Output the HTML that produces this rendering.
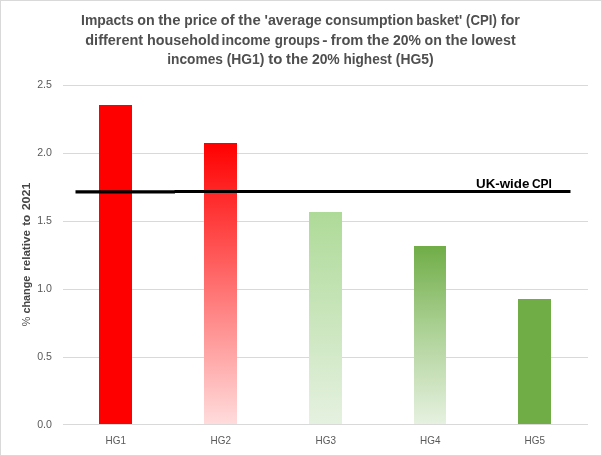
<!DOCTYPE html>
<html lang="en">
<head>
<meta charset="utf-8">
<title>CPI impacts by household income group</title>
<style>
html,body{margin:0;padding:0;background:#fff;}
body{width:602px;height:456px;overflow:hidden;}
svg{display:block;}
text{font-family:"Liberation Sans",Arial,sans-serif;}
.t{font-weight:bold;font-size:14.0px;fill:#4f4f4f;font-kerning:none;}
.ax{font-size:10.8px;fill:#595959;}
.yt{font-weight:bold;font-size:11.3px;fill:#454545;}
.lb{font-weight:bold;font-size:13px;fill:#000;}
</style>
</head>
<body>
<svg width="602" height="456" viewBox="0 0 602 456">
<defs>
<linearGradient id="g2" x1="0" y1="0" x2="0" y2="1"><stop offset="0" stop-color="#ff0000"/><stop offset="1" stop-color="#ffdcdc"/></linearGradient>
<linearGradient id="g3" x1="0" y1="0" x2="0" y2="1"><stop offset="0" stop-color="#aeda98"/><stop offset="1" stop-color="#e5f1e0"/></linearGradient>
<linearGradient id="g4" x1="0" y1="0" x2="0" y2="1"><stop offset="0" stop-color="#70ad47"/><stop offset="0.47" stop-color="#acd195"/><stop offset="1" stop-color="#e6f1e0"/></linearGradient>
</defs>
<rect x="0" y="0" width="602" height="456" fill="#ffffff"/>
<rect x="0.5" y="0.5" width="601" height="455" fill="none" stroke="#d9d9d9" stroke-width="1"/>
<g stroke="#d9d9d9" stroke-width="1" shape-rendering="crispEdges">
<line x1="63" y1="85.5" x2="588" y2="85.5"/>
<line x1="63" y1="153.5" x2="588" y2="153.5"/>
<line x1="63" y1="221.5" x2="588" y2="221.5"/>
<line x1="63" y1="289.5" x2="588" y2="289.5"/>
<line x1="63" y1="357.5" x2="588" y2="357.5"/>
<line x1="63" y1="424.5" x2="588" y2="424.5"/>
</g>
<g shape-rendering="crispEdges">
<rect x="99" y="105" width="33" height="319" fill="#ff0000"/>
<rect x="204" y="143" width="33" height="281" fill="url(#g2)"/>
<rect x="309" y="212" width="33" height="212" fill="url(#g3)"/>
<rect x="414" y="246" width="32" height="178" fill="url(#g4)"/>
<rect x="518" y="299" width="33" height="125" fill="#70ad47"/>
</g>
<path d="M75.5 191.9H175" stroke="#000" stroke-width="3.2" fill="none"/>
<path d="M174.5 191.5H570.5" stroke="#000" stroke-width="3" fill="none"/>
<text class="t" y="25.1"><tspan x="81.07" textLength="52.71" lengthAdjust="spacingAndGlyphs">Impacts</tspan> <tspan x="137.18" textLength="17.42" lengthAdjust="spacingAndGlyphs">on</tspan> <tspan x="158.15" textLength="22.39" lengthAdjust="spacingAndGlyphs">the</tspan> <tspan x="184.19" textLength="33.11" lengthAdjust="spacingAndGlyphs">price</tspan> <tspan x="220.86" textLength="13.76" lengthAdjust="spacingAndGlyphs">of</tspan> <tspan x="238.3" textLength="22.38" lengthAdjust="spacingAndGlyphs">the</tspan> <tspan x="264.54" textLength="57.26" lengthAdjust="spacingAndGlyphs">'average</tspan> <tspan x="325.32" textLength="87.96" lengthAdjust="spacingAndGlyphs">consumption</tspan> <tspan x="416.17" textLength="45.94" lengthAdjust="spacingAndGlyphs">basket'</tspan> <tspan x="466.08" textLength="30.77" lengthAdjust="spacingAndGlyphs">(CPI)</tspan> <tspan x="500.71" textLength="19.31" lengthAdjust="spacingAndGlyphs">for</tspan></text>
<text class="t" y="44.6"><tspan x="85.31" textLength="57.78" lengthAdjust="spacingAndGlyphs">different</tspan> <tspan x="147.06" textLength="72.48" lengthAdjust="spacingAndGlyphs">household</tspan> <tspan x="221.52" textLength="49.14" lengthAdjust="spacingAndGlyphs">income</tspan> <tspan x="274.81" textLength="45.2" lengthAdjust="spacingAndGlyphs">groups</tspan> <tspan x="322.27" textLength="5.22" lengthAdjust="spacingAndGlyphs">-</tspan> <tspan x="330.88" textLength="32.48" lengthAdjust="spacingAndGlyphs">from</tspan> <tspan x="366.92" textLength="22.35" lengthAdjust="spacingAndGlyphs">the</tspan> <tspan x="392.95" textLength="27.94" lengthAdjust="spacingAndGlyphs">20%</tspan> <tspan x="424.48" textLength="17.4" lengthAdjust="spacingAndGlyphs">on</tspan> <tspan x="445.44" textLength="22.35" lengthAdjust="spacingAndGlyphs">the</tspan> <tspan x="471.38" textLength="44.29" lengthAdjust="spacingAndGlyphs">lowest</tspan></text>
<text class="t" y="64.1"><tspan x="167.24" textLength="55.66" lengthAdjust="spacingAndGlyphs">incomes</tspan> <tspan x="226.64" textLength="37.84" lengthAdjust="spacingAndGlyphs">(HG1)</tspan> <tspan x="268.36" textLength="14.14" lengthAdjust="spacingAndGlyphs">to</tspan> <tspan x="285.99" textLength="22.28" lengthAdjust="spacingAndGlyphs">the</tspan> <tspan x="311.92" textLength="27.83" lengthAdjust="spacingAndGlyphs">20%</tspan> <tspan x="343.42" textLength="48.46" lengthAdjust="spacingAndGlyphs">highest</tspan> <tspan x="395.85" textLength="37.84" lengthAdjust="spacingAndGlyphs">(HG5)</tspan></text>
<g class="ax" text-anchor="end">
<text x="52" y="88.2" textLength="14.8" lengthAdjust="spacingAndGlyphs">2.5</text>
<text x="52" y="156.2" textLength="14.8" lengthAdjust="spacingAndGlyphs">2.0</text>
<text x="52" y="224.2" textLength="14.8" lengthAdjust="spacingAndGlyphs">1.5</text>
<text x="52" y="292.2" textLength="14.8" lengthAdjust="spacingAndGlyphs">1.0</text>
<text x="52" y="360.2" textLength="14.8" lengthAdjust="spacingAndGlyphs">0.5</text>
<text x="52" y="428.2" textLength="14.8" lengthAdjust="spacingAndGlyphs">0.0</text>
</g>
<g class="ax" text-anchor="middle">
<text x="115.7" y="444" textLength="20.4" lengthAdjust="spacingAndGlyphs">HG1</text>
<text x="220.7" y="444" textLength="20.4" lengthAdjust="spacingAndGlyphs">HG2</text>
<text x="325.8" y="444" textLength="20.4" lengthAdjust="spacingAndGlyphs">HG3</text>
<text x="430.2" y="444" textLength="20.4" lengthAdjust="spacingAndGlyphs">HG4</text>
<text x="534.8" y="444" textLength="20.4" lengthAdjust="spacingAndGlyphs">HG5</text>
</g>
<text class="yt" transform="translate(30.2,326) rotate(-90)"><tspan x="-0.28" textLength="9.57" lengthAdjust="spacingAndGlyphs" font-weight="normal">%</tspan> <tspan x="12.48" textLength="37.89" lengthAdjust="spacingAndGlyphs">change</tspan> <tspan x="55.23" textLength="40.66" lengthAdjust="spacingAndGlyphs">relative</tspan> <tspan x="100.16" textLength="11.21" lengthAdjust="spacingAndGlyphs">to</tspan> <tspan x="115.67" textLength="27.68" lengthAdjust="spacingAndGlyphs">2021</tspan></text>
<text class="lb" y="188"><tspan x="476" textLength="53.4" lengthAdjust="spacingAndGlyphs">UK-wide</tspan> <tspan x="531.9" textLength="20" lengthAdjust="spacingAndGlyphs">CPI</tspan></text>
</svg>
</body>
</html>
